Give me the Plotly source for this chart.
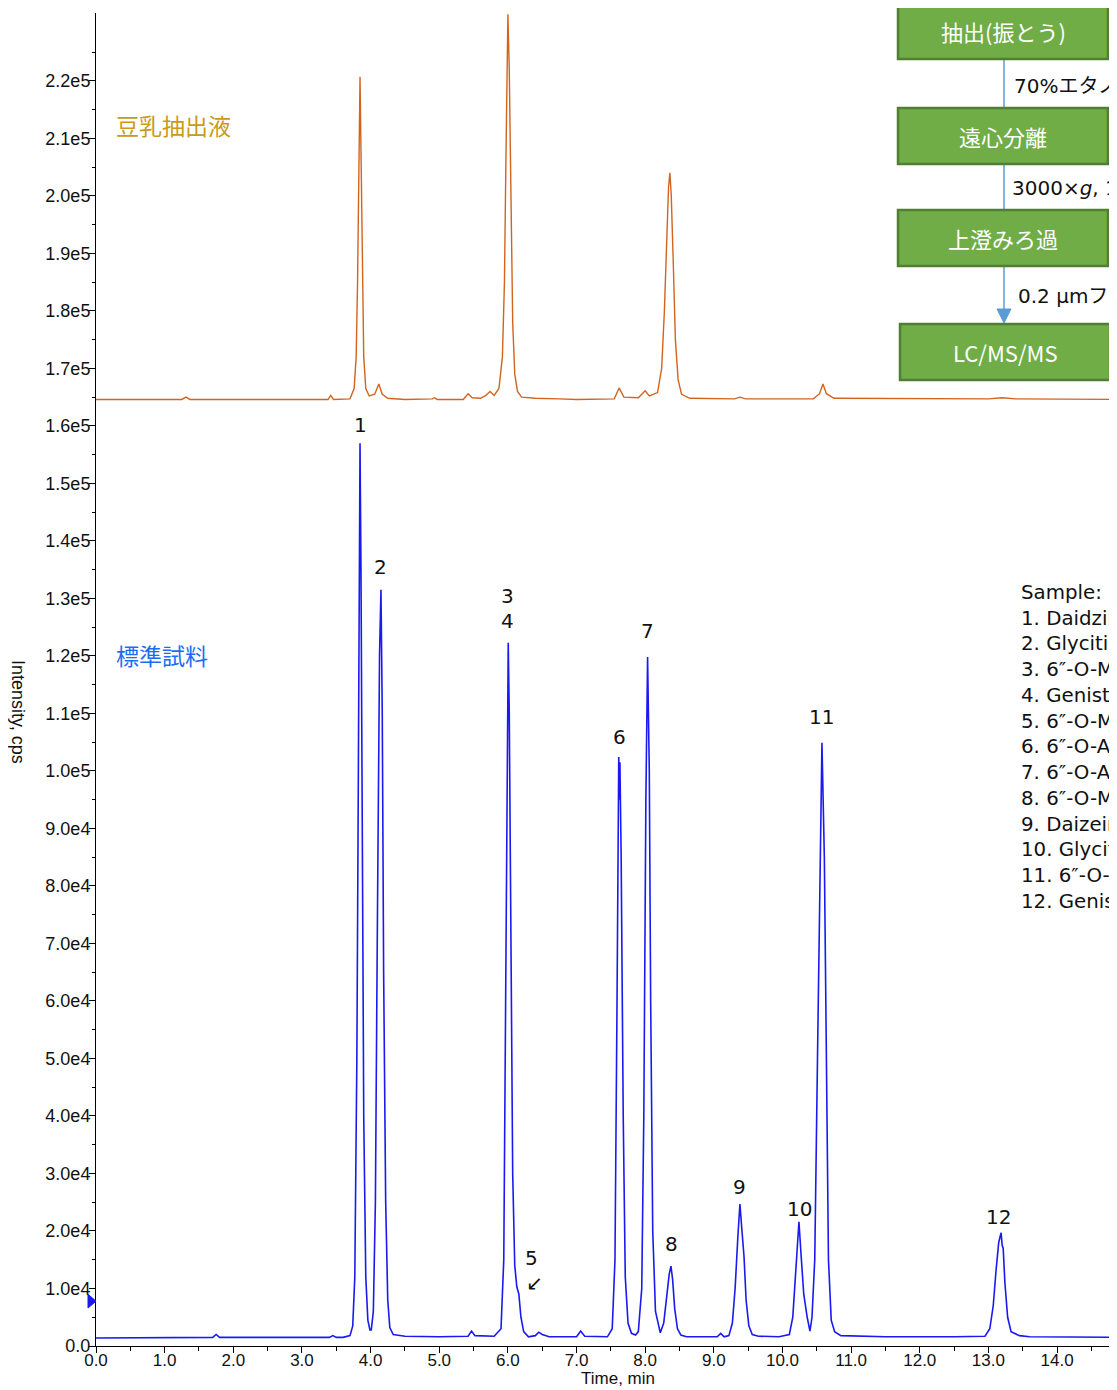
import plotly.graph_objects as go

# ---------------- data ----------------
# Soy-milk extract trace (orange), time in min, intensity in cps
soy_time = [0.0, 1.25, 1.31, 1.37, 3.38, 3.42, 3.46, 3.70, 3.76, 3.79, 3.81, 3.83, 3.846, 3.86, 3.88, 3.90,
            3.93, 3.98, 4.06, 4.12, 4.17, 4.25, 4.50, 4.90, 4.93, 4.97, 5.35, 5.42, 5.48, 5.60, 5.68, 5.74,
            5.80, 5.87, 5.92, 5.95, 5.97, 5.99, 6.00, 6.02, 6.04, 6.07, 6.10, 6.14, 6.20, 6.40, 6.75, 7.00,
            7.55, 7.62, 7.69, 7.90, 8.00, 8.06, 8.18, 8.24, 8.28, 8.31, 8.34, 8.36, 8.38, 8.41, 8.44, 8.48,
            8.53, 8.65, 9.30, 9.38, 9.46, 10.45, 10.54, 10.59, 10.64, 10.75, 13.0, 13.2, 13.4, 14.873]
soy_int = [164600, 164600, 165000, 164600, 164600, 165300, 164600, 164700, 166500, 172000, 185000, 205000,
           220700, 208000, 185000, 172000, 166500, 165200, 165500, 167300, 165500, 164800, 164600, 164700,
           164900, 164600, 164600, 165600, 164900, 164800, 165300, 166000, 165300, 166500, 172000, 185000,
           205000, 225000, 231600, 222000, 200000, 178000, 169000, 166000, 165000, 164800, 164700, 164600,
           164700, 166600, 165000, 164900, 166100, 165200, 165800, 170000, 180000, 192000, 201500, 204000,
           200000, 188000, 175000, 168000, 165500, 164800, 164700, 165000, 164700, 164700, 165600, 167300,
           165600, 164800, 164700, 164900, 164700, 164600]

# Standard mixture trace (blue)
std_time = [0.0, 1.70, 1.75, 1.80, 3.40, 3.45, 3.50, 3.60, 3.70, 3.74, 3.77, 3.80, 3.82, 3.835, 3.846, 3.86,
            3.88, 3.90, 3.93, 3.96, 3.99, 4.01, 4.04, 4.07, 4.10, 4.13, 4.151, 4.17, 4.19, 4.22, 4.25, 4.28,
            4.33, 4.50, 5.00, 5.42, 5.47, 5.52, 5.80, 5.90, 5.94, 5.97, 5.99, 6.005, 6.02, 6.04, 6.07, 6.10,
            6.13, 6.16, 6.19, 6.23, 6.30, 6.40, 6.45, 6.50, 6.60, 7.00, 7.06, 7.12, 7.45, 7.52, 7.56, 7.59,
            7.605, 7.615, 7.625, 7.632, 7.65, 7.68, 7.71, 7.75, 7.80, 7.86, 7.90, 7.95, 7.98, 8.01, 8.035,
            8.06, 8.08, 8.11, 8.15, 8.22, 8.27, 8.31, 8.35, 8.376, 8.40, 8.43, 8.47, 8.52, 8.60, 9.05, 9.10,
            9.15, 9.22, 9.27, 9.31, 9.35, 9.38, 9.41, 9.44, 9.47, 9.51, 9.56, 9.65, 9.95, 10.10, 10.15, 10.19,
            10.24, 10.27, 10.31, 10.36, 10.40, 10.43, 10.47, 10.51, 10.55, 10.575, 10.61, 10.64, 10.67,
            10.71, 10.76, 10.85, 11.50, 12.50, 12.95, 13.02, 13.07, 13.11, 13.15, 13.17, 13.185, 13.20,
            13.215, 13.24, 13.28, 13.33, 13.45, 13.60, 14.873]
std_int = [1400, 1500, 2000, 1500, 1500, 1800, 1500, 1500, 1800, 3500, 12000, 50000, 95000, 140000, 157000,
           135000, 85000, 40000, 12000, 4500, 2800, 2800, 6000, 25000, 75000, 120000, 131500, 110000, 65000,
           25000, 8000, 3200, 2000, 1700, 1600, 1700, 2600, 1800, 1700, 3000, 15000, 60000, 105000, 122300,
           110000, 70000, 30000, 14000, 10300, 9000, 5000, 2500, 1600, 1800, 2400, 2000, 1600, 1600, 2600,
           1700, 1600, 3000, 15000, 60000, 90000, 102400, 95000, 101500, 85000, 40000, 12000, 4000, 2200,
           1900, 2500, 10000, 40000, 95000, 119800, 100000, 60000, 20000, 6000, 2300, 4000, 8000, 12500,
           13900, 11500, 6500, 3000, 1900, 1600, 1600, 2200, 1600, 1800, 4000, 10000, 19000, 24700, 20000,
           15500, 8000, 3500, 2000, 1700, 1600, 2000, 5000, 12000, 21600, 16000, 9000, 5000, 2600, 5000,
           15000, 50000, 90000, 104900, 85000, 45000, 15000, 4500, 2500, 1800, 1600, 1600, 1700, 3000, 7000,
           13000, 18000, 19000, 19700, 17500, 17000, 11000, 5000, 2500, 1800, 1600, 1500]

# peak numbering labels
peak_labels = ["1", "2", "3", "4", "5", "↙", "6", "7", "8", "9", "10", "11", "12"]
peak_label_x = [3.846, 4.15, 5.99, 5.99, 6.34, 6.39, 7.62, 8.03, 8.39, 9.37, 10.25, 10.575, 13.15]
peak_label_y = [160200, 135500, 130400, 126100, 15300, 11000, 105900, 124300, 17700, 27700, 23800, 109400, 22400]

# axis ticks
x_tick_vals = list(range(0, 15))
x_tick_text = ["0.0", "1.0", "2.0", "3.0", "4.0", "5.0", "6.0", "7.0", "8.0", "9.0", "10.0", "11.0",
               "12.0", "13.0", "14.0"]
y_tick_vals = [i * 10000 for i in range(0, 23)]
y_tick_text = ["0.0", "1.0e4", "2.0e4", "3.0e4", "4.0e4", "5.0e4", "6.0e4", "7.0e4", "8.0e4", "9.0e4",
               "1.0e5", "1.1e5", "1.2e5", "1.3e5", "1.4e5", "1.5e5", "1.6e5", "1.7e5", "1.8e5", "1.9e5",
               "2.0e5", "2.1e5", "2.2e5"]

sample_lines = ["Sample:", "1. Daidzin", "2. Glycitin", "3. 6″-O-Malonyldaidzin", "4. Genistin",
                "5. 6″-O-Malonylglycitin", "6. 6″-O-Acetyldaidzin", "7. 6″-O-Acetylglycitin",
                "8. 6″-O-Malonylgenistin", "9. Daizein", "10. Glycitein", "11. 6″-O-Acetylgenistin",
                "12. Genistein"]

flow_steps = ["抽出(振とう)", "遠心分離", "上澄みろ過", "LC/MS/MS"]
flow_notes = ["70%エタノール", "3000×<i>g</i>, 10分", "0.2 μmフィルター"]

marker_level = 7800

# ---------------- layout geometry ----------------
# the page body adds an 8px offset; plot area spans page x 96..1117, page y 13..1346
OFF = 8
W, H = 1109, 1382
ML, MT = 88, 5
PW, PH = 1021, 1333
MR = W - ML - PW
MB = H - MT - PH
X0_PAGE = OFF + ML          # 96
YB_PAGE = OFF + MT + PH     # 1346


def px(xp):
    return (xp - X0_PAGE) / PW


def py(yp):
    return (YB_PAGE - yp) / PH


Y_TICK_FONT = dict(family="Liberation Sans, Arial, sans-serif", size=18, color="#111111")
X_TICK_FONT = dict(family="Liberation Sans, Arial, sans-serif", size=17, color="#111111")
NUM_FONT = dict(family="DejaVu Sans, Verdana, sans-serif", size=20, color="#111111")
JP_FONT = "Noto Sans CJK JP, sans-serif"

fig = go.Figure()
fig.add_trace(go.Scatter(x=soy_time, y=soy_int, mode="lines",
                         line=dict(color="#D2641E", width=1.4), showlegend=False))
fig.add_trace(go.Scatter(x=std_time, y=std_int, mode="lines",
                         line=dict(color="#1A1AF0", width=1.6), showlegend=False))

annotations = []
for t, xv, yv in zip(peak_labels, peak_label_x, peak_label_y):
    annotations.append(dict(x=xv, y=yv, xref="x", yref="y", text=t, showarrow=False,
                            font=NUM_FONT, xanchor="center", yanchor="middle"))

# trace names
annotations.append(dict(x=px(114), y=py(125), xref="paper", yref="paper", text="豆乳抽出液",
                        showarrow=False, xanchor="left", yanchor="middle",
                        font=dict(family=JP_FONT, size=23, color="#C99A1B")))
annotations.append(dict(x=px(114), y=py(655), xref="paper", yref="paper", text="標準試料",
                        showarrow=False, xanchor="left", yanchor="middle",
                        font=dict(family=JP_FONT, size=23, color="#1A6CF5")))

# axis titles
annotations.append(dict(x=px(18), y=py(712), xref="paper", yref="paper", text="Intensity, cps",
                        textangle=90, showarrow=False, xanchor="center", yanchor="middle",
                        font=dict(family="Liberation Sans, Arial, sans-serif", size=18, color="#111111")))
annotations.append(dict(x=px(618), y=py(1390), xref="paper", yref="paper", text="Time, min",
                        showarrow=False, xanchor="center", yanchor="bottom",
                        font=dict(family="Liberation Sans, Arial, sans-serif", size=17, color="#111111")))

# sample list
annotations.append(dict(x=px(1019), y=py(579), xref="paper", yref="paper",
                        text="<br>".join(sample_lines), align="left", showarrow=False,
                        xanchor="left", yanchor="top",
                        font=dict(family="DejaVu Sans, Verdana, sans-serif", size=19.8, color="#111111")))

# flowchart
shapes = []
box_tops = [3, 108, 210, 324]
box_lefts = [898, 898, 898, 900]
box_h = 56
box_w = 210
cx = 1004
shapes.append(dict(type="line", xref="paper", yref="paper", x0=px(cx), x1=px(cx), y0=py(-10), y1=py(312),
                   line=dict(color="#5B9BD5", width=1.5), layer="above"))
shapes.append(dict(type="path", xref="paper", yref="paper",
                   path=f"M {px(cx - 7)} {py(309)} L {px(cx + 7)} {py(309)} L {px(cx)} {py(323)} Z",
                   fillcolor="#5B9BD5", line=dict(color="#5B9BD5", width=1), layer="above"))
for top, left, label in zip(box_tops, box_lefts, flow_steps):
    shapes.append(dict(type="rect", xref="paper", yref="paper", x0=px(left), x1=px(left + box_w),
                       y0=py(top + box_h), y1=py(top), fillcolor="#70AD47",
                       line=dict(color="#507E32", width=2.5), layer="above"))
    annotations.append(dict(x=px(left + box_w / 2), y=py(top + box_h / 2), xref="paper", yref="paper",
                            text=label, showarrow=False, xanchor="center", yanchor="middle",
                            font=dict(family=JP_FONT, size=22, color="white")))
note_pos = [(1012, 86), (1010, 188), (1016, 296)]
for (nx, ny), note in zip(note_pos, flow_notes):
    annotations.append(dict(x=px(nx), y=py(ny), xref="paper", yref="paper", text=note,
                            showarrow=False, xanchor="left", yanchor="middle",
                            font=dict(family="DejaVu Sans, " + JP_FONT, size=20, color="#111111")))

# baseline-offset marker (blue triangle at the left of the y axis)
shapes.append(dict(type="path", xref="paper", yref="y",
                   path=f"M {px(88)} {marker_level + 1200} L {px(96)} {marker_level} "
                        f"L {px(88)} {marker_level - 1200} Z",
                   fillcolor="#1A1AF0", line=dict(color="#1A1AF0", width=1), layer="above"))

fig.update_layout(
    width=W, height=H,
    margin=dict(l=ML, r=MR, t=MT, b=MB),
    paper_bgcolor="white", plot_bgcolor="white",
    showlegend=False,
    annotations=annotations,
    shapes=shapes,
    xaxis=dict(range=[0, 14.873], tickmode="array", tickvals=x_tick_vals, ticktext=x_tick_text,
               ticks="outside", ticklen=6, tickcolor="black", tickwidth=1,
               showline=True, linecolor="black", linewidth=1, showgrid=False, zeroline=False,
               tickfont=X_TICK_FONT, ticklabelstandoff=-7,
               minor=dict(tickvals=[v + 0.5 for v in x_tick_vals], ticks="outside", ticklen=4,
                          tickcolor="black", showgrid=False)),
    yaxis=dict(range=[0, 231800], tickmode="array", tickvals=y_tick_vals, ticktext=y_tick_text,
               ticks="outside", ticklen=6, tickcolor="black", tickwidth=1,
               showline=True, linecolor="black", linewidth=1, showgrid=False, zeroline=False,
               tickfont=Y_TICK_FONT, ticklabelstandoff=-5,
               minor=dict(tickvals=[v + 5000 for v in y_tick_vals], ticks="outside", ticklen=3,
                          tickcolor="black", showgrid=False)),
)

fig.write_html("out.html")
